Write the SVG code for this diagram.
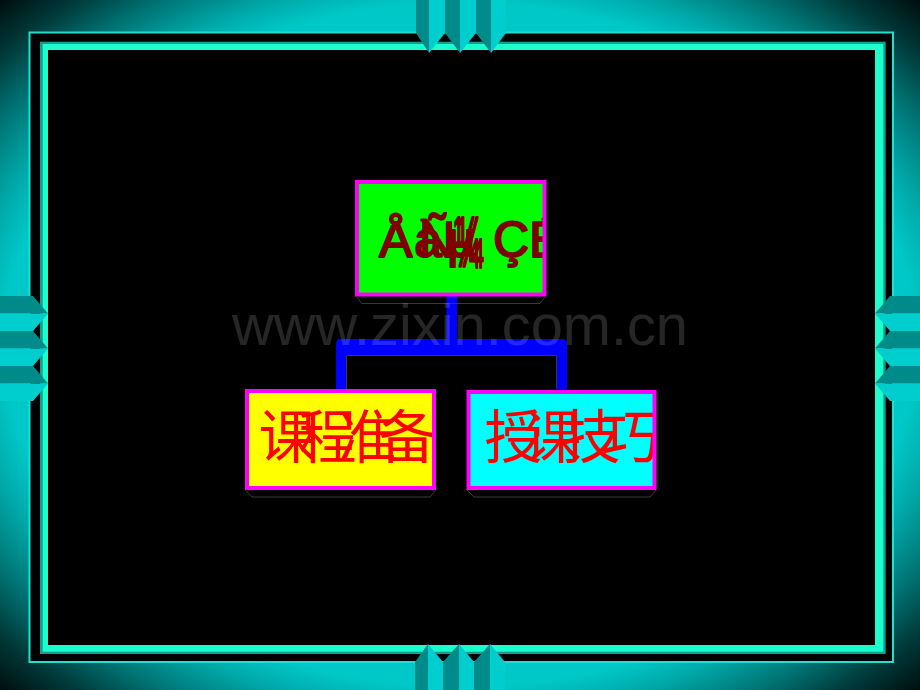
<svg xmlns="http://www.w3.org/2000/svg" width="920" height="690" viewBox="0 0 920 690">
  <defs>
    <radialGradient id="bg" cx="50%" cy="50%" r="70.7%">
      <stop offset="0" stop-color="#00cccc"/>
      <stop offset="0.7" stop-color="#00c8c8"/>
      <stop offset="0.76" stop-color="#00a8a8"/>
      <stop offset="0.84" stop-color="#007474"/>
      <stop offset="0.92" stop-color="#003a3a"/>
      <stop offset="1" stop-color="#000e0e"/>
    </radialGradient>
    <clipPath id="clipTop"><rect x="357" y="182" width="187.5" height="112.5"/></clipPath>
    <clipPath id="clipL"><rect x="247" y="391" width="187" height="97"/></clipPath>
    <clipPath id="clipR"><rect x="468.5" y="392" width="186" height="96"/></clipPath>
    <style>
      .dk { fill: #008b8b; }
      .lt { fill: #00cdcd; }
      .node { stroke: #ff00ff; stroke-width: 4; }
      .base { fill: none; stroke: #3a3a3a; stroke-width: 1; }
      .cjk { font-family: "Noto Sans CJK SC", "Noto Sans CJK TC", sans-serif; font-size: 58px; fill: #ff0000; }
      .moj { font-family: "Liberation Sans", Arial, sans-serif; font-size: 50px; fill: #800000; stroke: #800000; stroke-width: 2; stroke-linejoin: round; }
      .edge { fill: none; stroke: #3a3a3a; stroke-width: 1; }
    </style>
  </defs>

  <!-- background -->
  <rect x="0" y="0" width="920" height="690" fill="url(#bg)"/>

  <!-- frame -->
  <g id="frame">
    <rect x="29.5" y="32.5" width="863.5" height="629.5" fill="#000000" stroke="#20e0d0" stroke-width="2"/>
    <rect x="40" y="41.7" width="845.7" height="612.3" fill="#10a090"/>
    <rect x="42.7" y="44" width="840.6" height="607.7" fill="#1affcc"/>
    <rect x="48" y="50" width="827" height="595" fill="#000000"/>
  </g>

  <!-- top chevrons -->
  <g id="chevrons-top">
    <polygon class="dk" points="416,0 429,0 429,53 416,33"/>
    <polygon class="lt" points="429,0 445,0 445,33 429,53"/>
    <polygon class="dk" points="445,0 460,0 460,53 445,33"/>
    <polygon class="lt" points="460,0 476,0 476,33 460,53"/>
    <polygon class="dk" points="476,0 491,0 491,53 476,33"/>
    <polygon class="lt" points="491,0 506,0 506,33 491,53"/>
  </g>
  <!-- bottom chevrons -->
  <g id="chevrons-bottom">
    <polygon class="dk" points="415,690 415,662 428,644 428,690"/>
    <polygon class="lt" points="428,644 443,662 443,690 428,690"/>
    <polygon class="dk" points="443,690 443,662 459,644 459,690"/>
    <polygon class="lt" points="459,644 474,662 474,690 459,690"/>
    <polygon class="dk" points="474,690 474,662 490,644 490,690"/>
    <polygon class="lt" points="490,644 505,662 505,690 490,690"/>
  </g>
  <!-- left chevrons -->
  <g id="chevrons-left">
    <polygon class="dk" points="0,296 33,296 48,313.5 0,313.5"/>
    <polygon class="lt" points="0,313.5 48,313.5 33,331 0,331"/>
    <polygon class="dk" points="0,331 33,331 48,348.5 0,348.5"/>
    <polygon class="lt" points="0,348.5 48,348.5 33,366 0,366"/>
    <polygon class="dk" points="0,366 33,366 48,383.5 0,383.5"/>
    <polygon class="lt" points="0,383.5 48,383.5 33,401 0,401"/>
  </g>
  <!-- right chevrons -->
  <g id="chevrons-right">
    <polygon class="dk" points="920,296 890,296 875,313.5 920,313.5"/>
    <polygon class="lt" points="920,313.5 875,313.5 890,331 920,331"/>
    <polygon class="dk" points="920,331 890,331 875,348.5 920,348.5"/>
    <polygon class="lt" points="920,348.5 875,348.5 890,366 920,366"/>
    <polygon class="dk" points="920,366 890,366 875,383.5 920,383.5"/>
    <polygon class="lt" points="920,383.5 875,383.5 890,401 920,401"/>
  </g>

  <!-- connectors -->
  <g id="connectors">
    <rect x="446.5" y="296" width="10.5" height="44" fill="#0000ff"/>
    <path d="M336,389 V344 Q336,339 341,339 H562 Q567,339 567,344 V389 H557 V355 H346 V389 Z" fill="#0000ff"/>
    <path class="edge" d="M346.5,389 V355.5 H556.5 V389"/>
  </g>

  <!-- top node -->
  <g id="node-top">
    <path class="base" d="M356.5,296.5 L361.5,303.5 H540 L545.5,296.5"/>
    <rect x="357" y="182" width="187.5" height="112.5" fill="#00ff00"/>
    <g clip-path="url(#clipTop)">
      <text class="moj" y="257"><tspan x="379">Å</tspan><tspan x="414">à</tspan><tspan x="419">Ñ</tspan><tspan x="447">µ</tspan></text>
      <text class="moj" transform="translate(454,266) scale(0.6,1.4)">¼</text>
      <text class="moj" transform="translate(458,266) scale(0.6,1.4)">¼</text>
      <text class="moj" y="257"><tspan x="493">Ç</tspan><tspan x="529">É</tspan></text>
    </g>
    <rect class="node" x="357" y="182" width="187.5" height="112.5" fill="none"/>
  </g>

  <!-- left node -->
  <g id="node-left">
    <path class="base" d="M245.5,490 L252,497 H430 L436,490"/>
    <rect x="247" y="391" width="187" height="97" fill="#ffff00"/>
    <g clip-path="url(#clipL)">
      <text class="cjk" y="458"><tspan x="258.5">课</tspan><tspan x="298.5">程</tspan><tspan x="338.5">准</tspan><tspan x="378.5">备</tspan></text>
    </g>
    <rect class="node" x="247" y="391" width="187" height="97" fill="none"/>
  </g>

  <!-- right node -->
  <g id="node-right">
    <path class="base" d="M467,490 L474,497 H650 L656,490"/>
    <rect x="468.5" y="392" width="186" height="96" fill="#00ffff"/>
    <g clip-path="url(#clipR)">
      <text class="cjk" y="458"><tspan x="484.5">授</tspan><tspan x="523.5">课</tspan><tspan x="562.5">技</tspan><tspan x="601.5">巧</tspan></text>
    </g>
    <rect class="node" x="468.5" y="392" width="186" height="96" fill="none"/>
  </g>

  <!-- watermark -->
  <text x="232" y="345" font-family="Liberation Sans, Arial, sans-serif" font-size="57" fill="#ffffff" fill-opacity="0.15" textLength="456" lengthAdjust="spacingAndGlyphs">www.zixin.com.cn</text>
</svg>
